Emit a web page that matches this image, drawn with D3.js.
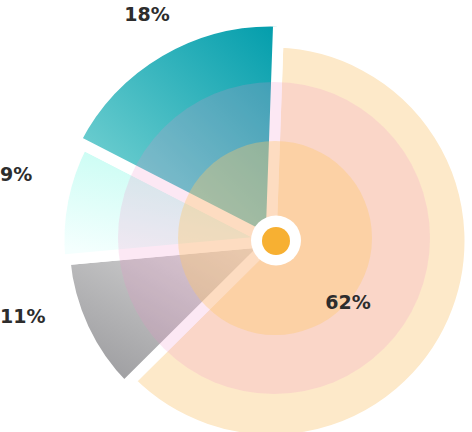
<!DOCTYPE html>
<html>
<head>
<meta charset="utf-8">
<script src="https://cdn.jsdelivr.net/npm/d3@7"></script>
<style>
  html, body { margin: 0; padding: 0; background: #ffffff; }
  svg { display: block; }
</style>
</head>
<body>
<div id="chart"></div>
<script>
// ---- data ----
const shares = [62, 11, 9, 18];
const labels = ["62%", "11%", "9%", "18%"];

// ---- layout / style (kept apart from data) ----
const W = 472, H = 432;
const cx = 271, cy = 241;
const startRot = 2 * Math.PI / 180;
const outerRadii = [199, 207, 212, 220];
const gapWidth = 11;
const labelPos = [
  { x: 348, y: 309, anchor: "middle" },
  { x: 0,   y: 323, anchor: "start" },
  { x: 0,   y: 181, anchor: "start" },
  { x: 147, y: 21,  anchor: "middle" }
];
const gradients = [
  { id: "g0", x1: 0, y1: 0, x2: 1, y2: 1, stops: [["0%", "#fde9c9"], ["100%", "#fde9c9"]] },
  { id: "g1", x1: 0.9, y1: 0, x2: 0.1, y2: 1, stops: [["0%", "#dcdcdc"], ["100%", "#98989b"]] },
  { id: "g2", x1: 0.7, y1: 0, x2: 0.3, y2: 1, stops: [["0%", "#c0fcf1"], ["100%", "#f4fffe"]] },
  { id: "g3", x1: 1, y1: 0, x2: 0.1, y2: 1, stops: [["0%", "#009cab"], ["100%", "#86d9d8"]] }
];

const svg = d3.select("#chart").append("svg")
  .attr("width", W).attr("height", H)
  .attr("viewBox", `0 0 ${W} ${H}`);

const defs = svg.append("defs");
gradients.forEach(gd => {
  const lg = defs.append("linearGradient").attr("id", gd.id)
    .attr("x1", gd.x1).attr("y1", gd.y1).attr("x2", gd.x2).attr("y2", gd.y2);
  gd.stops.forEach(s => lg.append("stop").attr("offset", s[0]).attr("stop-color", s[1]));
});

const pie = d3.pie().sort(null).value(d => d)
  .startAngle(startRot).endAngle(startRot + 2 * Math.PI);
const arcs = pie(shares);

const g = svg.append("g").attr("transform", `translate(${cx},${cy})`);

g.selectAll("path.slice").data(arcs).join("path")
  .attr("class", "slice")
  .attr("d", (d, i) => d3.arc().innerRadius(0).outerRadius(outerRadii[i])(d))
  .attr("fill", (d, i) => `url(#${gradients[i].id})`)
  .attr("stroke", "#ffffff")
  .attr("stroke-width", gapWidth)
  .attr("stroke-linejoin", "round");

// translucent concentric overlays
svg.append("circle").attr("cx", 274).attr("cy", 238).attr("r", 156)
  .attr("fill", "#f08ac6").attr("fill-opacity", 0.2);
svg.append("circle").attr("cx", 275).attr("cy", 238).attr("r", 97)
  .attr("fill", "#ffc866").attr("fill-opacity", 0.36);

// center badge
svg.append("circle").attr("cx", 276).attr("cy", 240.5).attr("r", 25).attr("fill", "#ffffff");
svg.append("circle").attr("cx", 276).attr("cy", 241).attr("r", 14).attr("fill", "#f7b032");

// labels
svg.selectAll("text.lbl").data(labels).join("text")
  .attr("class", "lbl")
  .attr("x", (d, i) => labelPos[i].x)
  .attr("y", (d, i) => labelPos[i].y)
  .attr("text-anchor", (d, i) => labelPos[i].anchor)
  .attr("font-family", "'DejaVu Sans', sans-serif")
  .attr("font-weight", 700)
  .attr("font-size", 19)
  .attr("fill", "#2d2d2d")
  .text(d => d);
</script>
</body>
</html>
